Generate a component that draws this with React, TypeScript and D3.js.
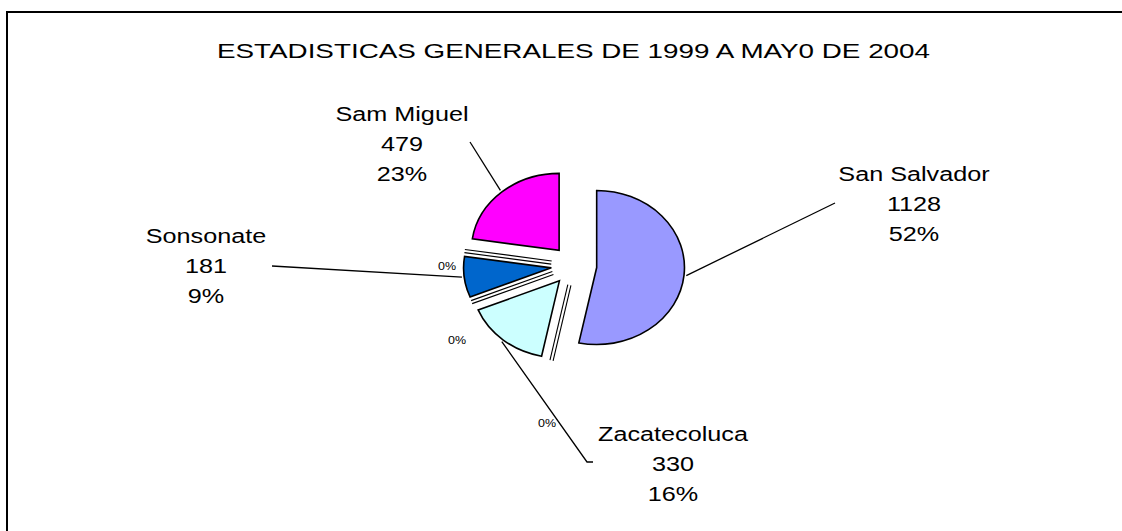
import React, { useRef, useEffect } from 'react';
import * as d3 from 'd3';

// Chart data (clockwise from 12 o'clock, zero slices included)
const categories = ['San Salvador', '', 'Zacatecoluca', '', 'Sonsonate', '', 'Sam Miguel'];
const values = [1128, 0, 330, 0, 181, 0, 479];
const percentLabels = ['52%', '0%', '16%', '0%', '9%', '0%', '23%'];
const chartTitle = 'ESTADISTICAS GENERALES DE 1999 A MAY0 DE 2004';

// Styles
const sliceColors = ['#9999FF', 'none', '#CCFFFF', 'none', '#0066CC', 'none', '#FF00FF'];

// Label placement relative to pie centre (Excel-style manual positions)
const labelLayout: Record<number, { text: [number, number]; leader: [number, number]; tail?: number }> = {
  0: { text: [340, -85], leader: [261, -62.5] },
  2: { text: [99, 175], leader: [13, 196.5], tail: 6 },
  4: { text: [-368, -23], leader: [-302, 0.5] },
  6: { text: [-172, -145], leader: [-104, -123.5] },
};
const zeroLabelAt: Record<number, [number, number]> = {
  1: [-27, 161.5],
  3: [-117, 78.5],
  5: [-127, 4.5],
};

const W = 1122;
const H = 531;

const App = () => {
  const svgRef = useRef<SVGSVGElement>(null);

  useEffect(() => {
    const svg = d3.select(svgRef.current);
    svg.selectAll('*').remove();

    const font = '"Liberation Sans", Arial, sans-serif';
    const cx = 574;
    const cy = 265.5;
    const sx = 1.14; // horizontal stretch of the pie
    const r = 77;
    const explode = 20;

    const pt = (a: number, rad: number): [number, number] => [
      cx + sx * rad * Math.sin(a),
      cy - rad * Math.cos(a),
    ];

    // Frame (only top and left edges are visible)
    svg.append('path')
      .attr('d', `M7,${H + 5}V12H${W + 5}`)
      .attr('fill', 'none')
      .attr('stroke', '#000')
      .attr('stroke-width', 2);

    // Title
    svg.append('text')
      .attr('x', 573.5).attr('y', 58)
      .attr('text-anchor', 'middle')
      .attr('font-family', font)
      .attr('font-size', 21)
      .attr('textLength', 713)
      .attr('lengthAdjust', 'spacingAndGlyphs')
      .attr('fill', '#000')
      .text(chartTitle);

    const pie = d3.pie<number>().sort(null).value(d => d);
    const arcs = pie(values);
    const arcGen = d3.arc<d3.PieArcDatum<number>>().innerRadius(0).outerRadius(r);

    const chart = svg.append('g');

    // Slices
    arcs.forEach((s, i) => {
      const mid = (s.startAngle + s.endAngle) / 2;
      if (s.value > 0) {
        const [ox, oy] = pt(mid, explode);
        chart.append('g')
          .attr('transform', `translate(${ox},${oy}) scale(${sx},1)`)
          .append('path')
          .attr('d', arcGen(s) as string)
          .attr('fill', sliceColors[i])
          .attr('stroke', '#000')
          .attr('stroke-width', 1.6)
          .attr('stroke-linejoin', 'miter')
          .attr('vector-effect', 'non-scaling-stroke');
      } else {
        // zero slices show up as thin double lines
        const a = s.startAngle;
        const p0 = pt(a, explode);
        const p1 = pt(a, explode + r);
        const len = Math.hypot(p1[0] - p0[0], p1[1] - p0[1]);
        const nx = -(p1[1] - p0[1]) / len;
        const ny = (p1[0] - p0[0]) / len;
        [-1.6, 1.6].forEach(o => {
          chart.append('line')
            .attr('x1', p0[0] + nx * o).attr('y1', p0[1] + ny * o)
            .attr('x2', p1[0] + nx * o).attr('y2', p1[1] + ny * o)
            .attr('stroke', '#000')
            .attr('stroke-width', 1.1);
        });
      }
    });

    // Leader lines and labels
    arcs.forEach((s, i) => {
      const lay = labelLayout[i];
      if (!lay) return;
      const mid = (s.startAngle + s.endAngle) / 2;
      const start = pt(mid, explode + r + 2);
      const end: [number, number] = [cx + lay.leader[0], cy + lay.leader[1]];
      const pts: [number, number][] = [start, end];
      if (lay.tail) pts.push([end[0] + lay.tail, end[1]]);
      chart.append('path')
        .attr('d', d3.line()(pts) as string)
        .attr('fill', 'none')
        .attr('stroke', '#000')
        .attr('stroke-width', 1.3);

      const lines = [categories[i], String(values[i]), percentLabels[i]];
      lines.forEach((t, k) => {
        chart.append('text')
          .attr('transform', `translate(${cx + lay.text[0]},${cy + lay.text[1] + k * 30}) scale(1.2,1)`)
          .attr('text-anchor', 'middle')
          .attr('font-family', font)
          .attr('font-size', 21)
          .attr('fill', '#000')
          .text(t);
      });
    });

    // 0% labels
    arcs.forEach((s, i) => {
      const at = zeroLabelAt[i];
      if (!at) return;
      chart.append('text')
        .attr('transform', `translate(${cx + at[0]},${cy + at[1]}) scale(1.25,1)`)
        .attr('text-anchor', 'middle')
        .attr('font-family', font)
        .attr('font-size', 10)
        .attr('fill', '#000')
        .text(percentLabels[i]);
    });
  }, []);

  return (
    <svg
      ref={svgRef}
      width={W}
      height={H}
      style={{ position: 'absolute', left: 0, top: 0, display: 'block', background: '#fff' }}
    />
  );
};

export default App;
